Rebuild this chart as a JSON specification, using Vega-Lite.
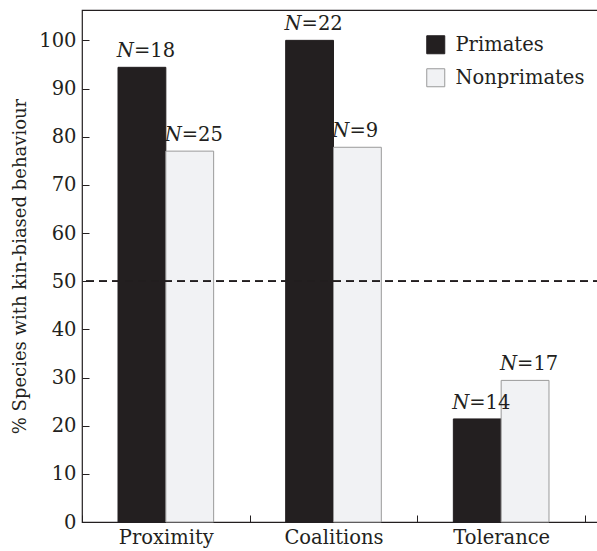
{
  "$schema": "https://vega.github.io/schema/vega-lite/v6.json",
  "autosize": "none",
  "padding": {"left": 82, "top": 10, "right": 0, "bottom": 29},
  "width": 519,
  "height": 512,
  "background": "white",
  "config": {
    "font": "DejaVu Serif",
    "text": {"font": "DejaVu Serif"},
    "style": {"guide-title": {"font": "DejaVu Serif", "fontWeight": "normal"}, "guide-label": {"font": "DejaVu Serif"}},
    "view": {"stroke": "#231f20", "strokeWidth": 1.2},
    "axis": {"labelFont": "DejaVu Serif", "titleFont": "DejaVu Serif", "labelColor": "#231f20", "titleColor": "#231f20", "domainColor": "#231f20", "tickColor": "#231f20", "grid": false},
    "axisY": {"titleFont": "DejaVu Serif"},
    "legend": {"labelFont": "DejaVu Serif"}
  },
  "data": {
    "values": [
      {"behaviour": "Proximity", "group": "Primates", "pct": 94.4, "n": "=18"},
      {"behaviour": "Proximity", "group": "Nonprimates", "pct": 77.0, "n": "=25"},
      {"behaviour": "Coalitions", "group": "Primates", "pct": 100, "n": "=22"},
      {"behaviour": "Coalitions", "group": "Nonprimates", "pct": 77.8, "n": "=9"},
      {"behaviour": "Tolerance", "group": "Primates", "pct": 21.4, "n": "=14"},
      {"behaviour": "Tolerance", "group": "Nonprimates", "pct": 29.4, "n": "=17"}
    ]
  },
  "encoding": {
    "x": {
      "field": "behaviour", "type": "nominal", "sort": ["Proximity", "Coalitions", "Tolerance"],
      "scale": {"range": [0, 503], "paddingInner": 0, "paddingOuter": 0},
      "axis": {"title": null, "labelAngle": 0, "labelFont": "DejaVu Serif", "labelFontSize": 19.5, "tickBand": "extent", "tickSize": -7, "labelPadding": 13, "domain": false}
    },
    "xOffset": {
      "field": "group", "type": "nominal", "sort": ["Primates", "Nonprimates"],
      "scale": {"paddingInner": 0, "paddingOuter": 0.753}
    }
  },
  "layer": [
    {
      "mark": {"type": "bar", "strokeWidth": 1},
      "encoding": {
        "y": {
          "field": "pct", "type": "quantitative",
          "title": "% Species with kin-biased behaviour",
          "scale": {"domain": [0, 106.3], "nice": false, "zero": true},
          "axis": {"titleFont": "DejaVu Serif", "titleFontSize": 18, "titleFontWeight": "normal", "titlePadding": 9, "labelFont": "DejaVu Serif", "labelFontSize": 19.5, "values": [0, 10, 20, 30, 40, 50, 60, 70, 80, 90, 100], "tickSize": -7, "labelPadding": 13, "domain": false}
        },
        "fill": {
          "field": "group", "type": "nominal", "sort": ["Primates", "Nonprimates"],
          "scale": {"domain": ["Primates", "Nonprimates"], "range": ["#231f20", "#f1f2f4"]},
          "legend": {"title": null, "orient": "none", "legendX": 344, "legendY": 25, "labelFont": "DejaVu Serif", "labelFontSize": 19.5, "labelColor": "#231f20", "symbolType": "square", "symbolSize": 324, "symbolStrokeWidth": 1, "rowPadding": 10, "labelOffset": 10}
        },
        "stroke": {
          "field": "group", "type": "nominal",
          "scale": {"domain": ["Primates", "Nonprimates"], "range": ["#231f20", "#9a9a9a"]},
          "legend": null
        }
      }
    },
    {
      "mark": {"type": "rule", "strokeDash": [8, 5], "color": "#231f20", "strokeWidth": 1},
      "encoding": {"y": {"datum": 50, "type": "quantitative"}, "x": {}, "xOffset": {}}
    },
    {
      "mark": {"type": "text", "align": "right", "baseline": "alphabetic", "dy": -10, "dx": -8, "fontStyle": "italic", "fontSize": 19.5, "color": "#231f20"},
      "encoding": {"y": {"field": "pct", "type": "quantitative"}, "text": {"value": "N"}}
    },
    {
      "mark": {"type": "text", "align": "left", "baseline": "alphabetic", "dy": -10, "dx": -8, "fontSize": 19.5, "color": "#231f20"},
      "encoding": {"y": {"field": "pct", "type": "quantitative"}, "text": {"field": "n"}}
    }
  ]
}
